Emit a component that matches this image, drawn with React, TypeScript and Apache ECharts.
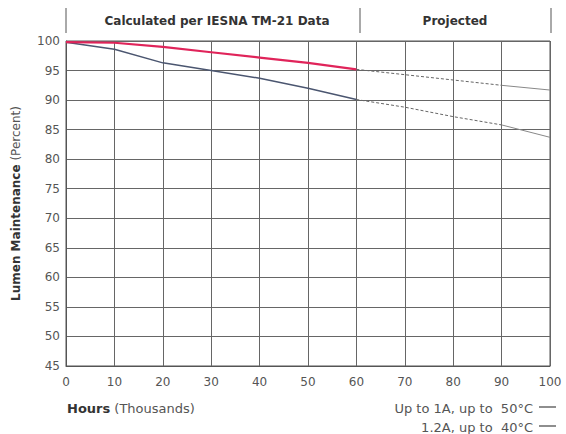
import React, { useEffect, useRef } from "react";
import * as echarts from "echarts";

const hoursMeasured = [0, 10, 20, 30, 40, 50, 60];
const redMeasured = [99.8, 99.7, 99.0, 98.1, 97.2, 96.3, 95.2];
const darkMeasured = [99.8, 98.6, 96.3, 95.0, 93.7, 92.0, 90.1];

const hoursProjected = [60, 70, 80, 90];
const redProjected = [95.2, 94.3, 93.4, 92.5];
const darkProjected = [90.1, 88.8, 87.2, 85.8];

const hoursTail = [90, 100];
const redTail = [92.5, 91.7];
const darkTail = [85.8, 83.7];

const headerLeft = "Calculated per IESNA TM-21 Data";
const headerRight = "Projected";
const legendLabels = ["Up to 1A, up to  50°C", "1.2A, up to  40°C"];

const zip = (xs: number[], ys: number[]) => xs.map((x, i) => [x, ys[i]]);

export default function App() {
  const ref = useRef<HTMLDivElement>(null);
  useEffect(() => {
    if (!ref.current) return;
    const chart = echarts.init(ref.current, undefined, { renderer: "svg" });
    const font = "'DejaVu Sans', sans-serif";
    const lineBase = { type: "line", symbol: "none", silent: true };
    chart.setOption({
      animation: false,
      textStyle: { fontFamily: font },
      grid: {
        left: 66,
        right: 16,
        top: 41,
        bottom: 68,
        show: true,
        borderColor: "#555",
        borderWidth: 1,
      },
      xAxis: {
        type: "value",
        min: 0,
        max: 100,
        interval: 10,
        axisLine: { show: true, lineStyle: { color: "#555" } },
        axisTick: { show: false },
        axisLabel: { color: "#555", fontSize: 12, margin: 10, fontFamily: font },
        splitLine: { show: true, lineStyle: { color: "#666", width: 1 } },
      },
      yAxis: {
        type: "value",
        min: 45,
        max: 100,
        interval: 5,
        name: "{b|Lumen Maintenance} (Percent)",
        nameLocation: "middle",
        nameRotate: 90,
        nameGap: 44,
        nameTextStyle: {
          color: "#555",
          fontSize: 12,
          fontFamily: font,
          rich: { b: { fontWeight: "bold", color: "#333", fontSize: 12, fontFamily: font } },
        },
        axisLine: { show: true, lineStyle: { color: "#555" } },
        axisTick: { show: false },
        axisLabel: { color: "#555", fontSize: 12, margin: 6, fontFamily: font },
        splitLine: { show: true, lineStyle: { color: "#666", width: 1 } },
      },
      series: [
        {
          ...lineBase,
          name: "dark",
          data: zip(hoursMeasured, darkMeasured),
          lineStyle: { color: "#4b5670", width: 1.5 },
          z: 3,
        },
        {
          ...lineBase,
          name: "red",
          data: zip(hoursMeasured, redMeasured),
          lineStyle: { color: "#e0245a", width: 2.2 },
          z: 4,
        },
        {
          ...lineBase,
          data: zip(hoursProjected, redProjected),
          lineStyle: { color: "#666", width: 1, type: [3, 2] },
        },
        {
          ...lineBase,
          data: zip(hoursProjected, darkProjected),
          lineStyle: { color: "#666", width: 1, type: [3, 2] },
        },
        {
          ...lineBase,
          data: zip(hoursTail, redTail),
          lineStyle: { color: "#888", width: 1 },
        },
        {
          ...lineBase,
          data: zip(hoursTail, darkTail),
          lineStyle: { color: "#888", width: 1 },
        },
      ],
      graphic: [
        { type: "line", shape: { x1: 66, y1: 8, x2: 66, y2: 33 }, style: { stroke: "#555", lineWidth: 1 } },
        { type: "line", shape: { x1: 360, y1: 8, x2: 360, y2: 33 }, style: { stroke: "#555", lineWidth: 1 } },
        { type: "line", shape: { x1: 551, y1: 8, x2: 551, y2: 33 }, style: { stroke: "#555", lineWidth: 1 } },
        {
          type: "text",
          x: 217,
          y: 21,
          style: {
            text: headerLeft,
            fill: "#333",
            font: `bold 12px ${font}`,
            align: "center",
            verticalAlign: "middle",
          },
        },
        {
          type: "text",
          x: 455,
          y: 21,
          style: {
            text: headerRight,
            fill: "#333",
            font: `bold 12px ${font}`,
            align: "center",
            verticalAlign: "middle",
          },
        },
        {
          type: "text",
          x: 67,
          y: 408,
          style: {
            text: "{b|Hours} (Thousands)",
            fill: "#555",
            font: `13px ${font}`,
            verticalAlign: "middle",
            rich: { b: { fontWeight: "bold", fill: "#333", fontSize: 13, fontFamily: font } },
          },
        },
        {
          type: "text",
          x: 533,
          y: 408,
          style: { text: legendLabels[0], fill: "#555", font: `13px ${font}`, align: "right", verticalAlign: "middle" },
        },
        {
          type: "text",
          x: 533,
          y: 427,
          style: { text: legendLabels[1], fill: "#555", font: `13px ${font}`, align: "right", verticalAlign: "middle" },
        },
        { type: "line", shape: { x1: 539, y1: 407, x2: 556, y2: 407 }, style: { stroke: "#444", lineWidth: 1.2 } },
        { type: "line", shape: { x1: 539, y1: 426, x2: 556, y2: 426 }, style: { stroke: "#444", lineWidth: 1.2 } },
      ],
    });
    return () => chart.dispose();
  }, []);
  return <div ref={ref} style={{ width: 566, height: 434, position: "absolute", left: 0, top: 0 }} />;
}
